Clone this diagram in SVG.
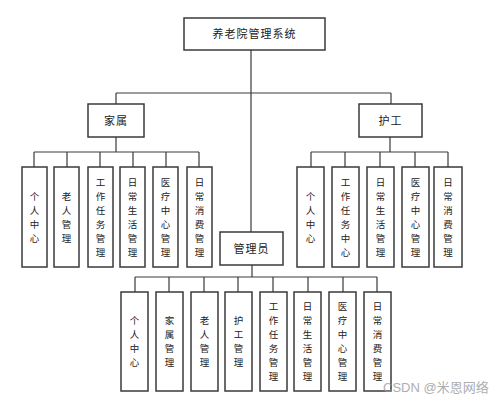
<svg xmlns="http://www.w3.org/2000/svg" width="500" height="402" viewBox="0 0 500 402">
<style>
.box{fill:#fff;stroke:#3a3a3a;stroke-width:1.5}
.ln{stroke:#3a3a3a;stroke-width:1.2;fill:none}
.t{font-family:"Noto Sans CJK SC","Noto Sans",sans-serif;font-size:11px;fill:#222;text-anchor:middle}
.v{font-size:9.5px}
.wm{font-family:"Liberation Sans","Noto Sans CJK SC",sans-serif;font-size:13px;fill:#9a9a9a;opacity:0.8}
</style>
<rect width="500" height="402" fill="#fff"/>
<g id="connectors">
<path class="ln" d="M251,50V232 M116,93H391 M116,93V104 M391,93V104"/>
<path class="ln" d="M116,137V152 M34,152H199 M34,152V167 M67,152V167 M100,152V167 M133,152V167 M166,152V167 M199,152V167"/>
<path class="ln" d="M390,137V152 M311,152H448 M311,152V167 M345,152V167 M380,152V167 M415,152V167 M448,152V167"/>
<path class="ln" d="M252,265V277 M135,277H377 M135,277V292 M169,277V292 M204,277V292 M238,277V292 M273,277V292 M308,277V292 M343,277V292 M377,277V292"/>
</g>
<g id="root"><rect class="box" x="184" y="18" width="141" height="32"/><text class="t" x="254.5" y="38" letter-spacing="1">养老院管理系统</text></g>
<g id="jiashu"><rect class="box" x="88" y="104" width="56" height="33"/><text class="t" x="116" y="124.5" letter-spacing="1">家属</text></g>
<g id="hugong"><rect class="box" x="359" y="104" width="63" height="33"/><text class="t" x="390.5" y="124.5" letter-spacing="1">护工</text></g>
<g id="guanliyuan"><rect class="box" x="220" y="232" width="63" height="33"/><text class="t" x="251.5" y="252.5" letter-spacing="1">管理员</text></g>

<g id="j1"><rect class="box" x="22" y="167" width="25" height="100"/><text class="t v" x="34.5" y="199.5"><tspan x="34.5">个</tspan><tspan x="34.5" dy="14">人</tspan><tspan x="34.5" dy="14">中</tspan><tspan x="34.5" dy="14">心</tspan></text></g>
<g id="j2"><rect class="box" x="54" y="167" width="25" height="100"/><text class="t v" x="66.5" y="199.5"><tspan x="66.5">老</tspan><tspan x="66.5" dy="14">人</tspan><tspan x="66.5" dy="14">管</tspan><tspan x="66.5" dy="14">理</tspan></text></g>
<g id="j3"><rect class="box" x="88" y="167" width="25" height="100"/><text class="t v" x="100.5" y="185.5"><tspan x="100.5">工</tspan><tspan x="100.5" dy="14">作</tspan><tspan x="100.5" dy="14">任</tspan><tspan x="100.5" dy="14">务</tspan><tspan x="100.5" dy="14">管</tspan><tspan x="100.5" dy="14">理</tspan></text></g>
<g id="j4"><rect class="box" x="120" y="167" width="25" height="100"/><text class="t v" x="132.5" y="185.5"><tspan x="132.5">日</tspan><tspan x="132.5" dy="14">常</tspan><tspan x="132.5" dy="14">生</tspan><tspan x="132.5" dy="14">活</tspan><tspan x="132.5" dy="14">管</tspan><tspan x="132.5" dy="14">理</tspan></text></g>
<g id="j5"><rect class="box" x="153" y="167" width="25" height="100"/><text class="t v" x="165.5" y="185.5"><tspan x="165.5">医</tspan><tspan x="165.5" dy="14">疗</tspan><tspan x="165.5" dy="14">中</tspan><tspan x="165.5" dy="14">心</tspan><tspan x="165.5" dy="14">管</tspan><tspan x="165.5" dy="14">理</tspan></text></g>
<g id="j6"><rect class="box" x="187" y="167" width="25" height="100"/><text class="t v" x="199.5" y="185.5"><tspan x="199.5">日</tspan><tspan x="199.5" dy="14">常</tspan><tspan x="199.5" dy="14">消</tspan><tspan x="199.5" dy="14">费</tspan><tspan x="199.5" dy="14">管</tspan><tspan x="199.5" dy="14">理</tspan></text></g>

<g id="h1"><rect class="box" x="297" y="167" width="27" height="100"/><text class="t v" x="310.5" y="199.5"><tspan x="310.5">个</tspan><tspan x="310.5" dy="14">人</tspan><tspan x="310.5" dy="14">中</tspan><tspan x="310.5" dy="14">心</tspan></text></g>
<g id="h2"><rect class="box" x="332" y="167" width="27" height="100"/><text class="t v" x="345.5" y="185.5"><tspan x="345.5">工</tspan><tspan x="345.5" dy="14">作</tspan><tspan x="345.5" dy="14">任</tspan><tspan x="345.5" dy="14">务</tspan><tspan x="345.5" dy="14">中</tspan><tspan x="345.5" dy="14">心</tspan></text></g>
<g id="h3"><rect class="box" x="367" y="167" width="27" height="100"/><text class="t v" x="380.5" y="185.5"><tspan x="380.5">日</tspan><tspan x="380.5" dy="14">常</tspan><tspan x="380.5" dy="14">生</tspan><tspan x="380.5" dy="14">活</tspan><tspan x="380.5" dy="14">管</tspan><tspan x="380.5" dy="14">理</tspan></text></g>
<g id="h4"><rect class="box" x="402" y="167" width="27" height="100"/><text class="t v" x="415.5" y="185.5"><tspan x="415.5">医</tspan><tspan x="415.5" dy="14">疗</tspan><tspan x="415.5" dy="14">中</tspan><tspan x="415.5" dy="14">心</tspan><tspan x="415.5" dy="14">管</tspan><tspan x="415.5" dy="14">理</tspan></text></g>
<g id="h5"><rect class="box" x="434" y="167" width="28" height="100"/><text class="t v" x="448" y="185.5"><tspan x="448">日</tspan><tspan x="448" dy="14">常</tspan><tspan x="448" dy="14">消</tspan><tspan x="448" dy="14">费</tspan><tspan x="448" dy="14">管</tspan><tspan x="448" dy="14">理</tspan></text></g>

<g id="g1"><rect class="box" x="121" y="292" width="27" height="99"/><text class="t v" x="134.5" y="324"><tspan x="134.5">个</tspan><tspan x="134.5" dy="14">人</tspan><tspan x="134.5" dy="14">中</tspan><tspan x="134.5" dy="14">心</tspan></text></g>
<g id="g2"><rect class="box" x="156" y="292" width="27" height="99"/><text class="t v" x="169.5" y="324"><tspan x="169.5">家</tspan><tspan x="169.5" dy="14">属</tspan><tspan x="169.5" dy="14">管</tspan><tspan x="169.5" dy="14">理</tspan></text></g>
<g id="g3"><rect class="box" x="191" y="292" width="27" height="99"/><text class="t v" x="204.5" y="324"><tspan x="204.5">老</tspan><tspan x="204.5" dy="14">人</tspan><tspan x="204.5" dy="14">管</tspan><tspan x="204.5" dy="14">理</tspan></text></g>
<g id="g4"><rect class="box" x="225" y="292" width="27" height="99"/><text class="t v" x="238.5" y="324"><tspan x="238.5">护</tspan><tspan x="238.5" dy="14">工</tspan><tspan x="238.5" dy="14">管</tspan><tspan x="238.5" dy="14">理</tspan></text></g>
<g id="g5"><rect class="box" x="260" y="292" width="27" height="99"/><text class="t v" x="273.5" y="310"><tspan x="273.5">工</tspan><tspan x="273.5" dy="14">作</tspan><tspan x="273.5" dy="14">任</tspan><tspan x="273.5" dy="14">务</tspan><tspan x="273.5" dy="14">管</tspan><tspan x="273.5" dy="14">理</tspan></text></g>
<g id="g6"><rect class="box" x="294" y="292" width="27" height="99"/><text class="t v" x="307.5" y="310"><tspan x="307.5">日</tspan><tspan x="307.5" dy="14">常</tspan><tspan x="307.5" dy="14">生</tspan><tspan x="307.5" dy="14">活</tspan><tspan x="307.5" dy="14">管</tspan><tspan x="307.5" dy="14">理</tspan></text></g>
<g id="g7"><rect class="box" x="329" y="292" width="27" height="99"/><text class="t v" x="342.5" y="310"><tspan x="342.5">医</tspan><tspan x="342.5" dy="14">疗</tspan><tspan x="342.5" dy="14">中</tspan><tspan x="342.5" dy="14">心</tspan><tspan x="342.5" dy="14">管</tspan><tspan x="342.5" dy="14">理</tspan></text></g>
<g id="g8"><rect class="box" x="364" y="292" width="27" height="99"/><text class="t v" x="377.5" y="310"><tspan x="377.5">日</tspan><tspan x="377.5" dy="14">常</tspan><tspan x="377.5" dy="14">消</tspan><tspan x="377.5" dy="14">费</tspan><tspan x="377.5" dy="14">管</tspan><tspan x="377.5" dy="14">理</tspan></text></g>

<text class="wm" x="383" y="392">CSDN @米恩网络</text>
</svg>
